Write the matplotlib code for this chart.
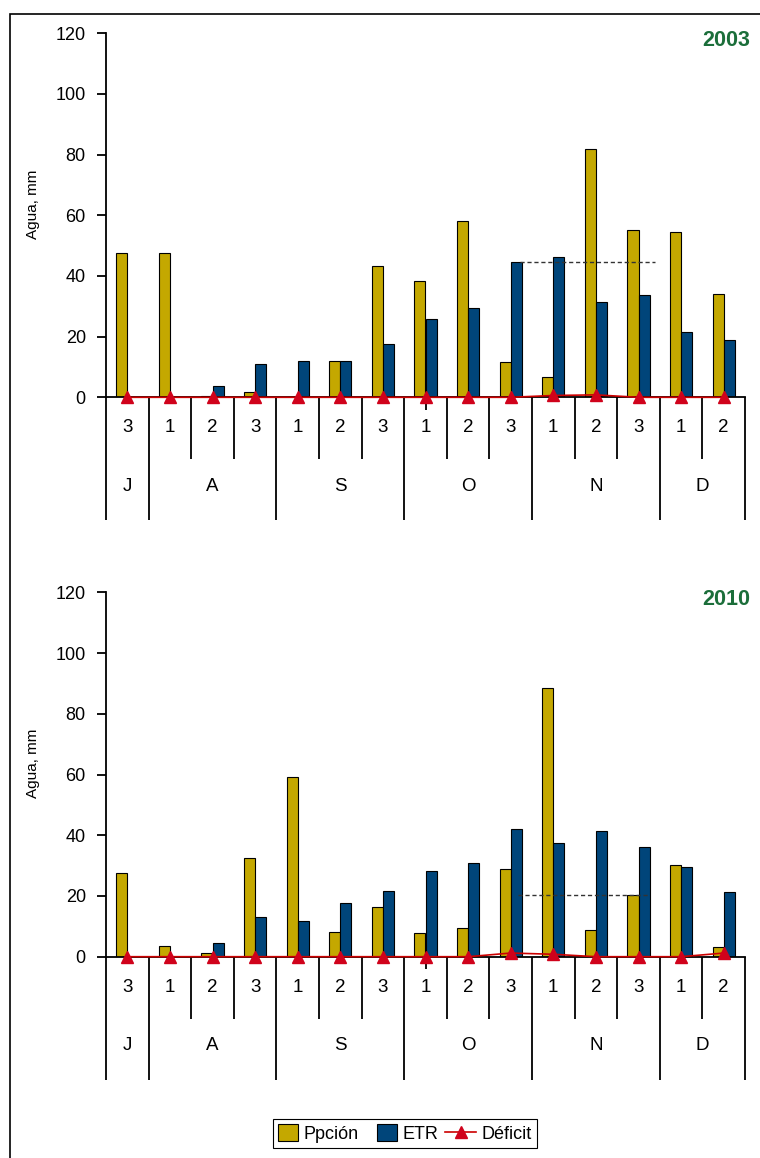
import numpy as np
import matplotlib.pyplot as plt
from matplotlib.legend_handler import HandlerLine2D
from matplotlib.patches import Patch, Rectangle
from matplotlib.lines import Line2D

plt.rcParams['font.family'] = ['Liberation Sans', 'DejaVu Sans']

# decades (J3 .. D2) and months
decadas = ['3', '1', '2', '3', '1', '2', '3', '1', '2', '3', '1', '2', '3', '1', '2']
meses = ['J', 'A', 'S', 'O', 'N', 'D']
meses_n = [1, 3, 3, 3, 3, 2]  # decades per month

# 2003
ppcion_2003 = [47.5, 47.5, 0.5, 1.6, 0.0, 12.1, 43.3, 38.4, 58.1, 11.5, 6.6, 81.8, 55.2, 54.6, 34.2]
etr_2003 = [0.0, 0.0, 3.7, 11.1, 12.1, 12.1, 17.7, 25.8, 29.4, 44.7, 46.2, 31.4, 33.6, 21.4, 19.0]
deficit_2003 = [0, 0, 0, 0, 0, 0, 0, 0, 0, 0, 0.6, 0.8, 0, 0, 0]
umbral_2003 = 44.7
umbral_x_2003 = [9.22, 12.39]

# 2010
ppcion_2010 = [27.5, 3.6, 1.1, 32.4, 59.1, 8.1, 16.3, 7.8, 9.6, 28.8, 88.4, 8.9, 20.3, 30.1, 3.1]
etr_2010 = [0.0, 0.0, 4.4, 13.0, 11.9, 17.7, 21.7, 28.1, 30.9, 42.1, 37.5, 41.3, 36.2, 29.4, 21.2]
deficit_2010 = [0, 0, 0, 0, 0, 0, 0, 0, 0, 1.2, 0.8, 0, 0, 0, 1.2]
umbral_2010 = 20.3
umbral_x_2010 = [9.16, 12.25]

GOLD = '#C4A800'
BLUE = '#00457A'
RED = '#D0021B'


class WideLine(HandlerLine2D):
    # stretch the legend line a bit to the left
    def create_artists(self, legend, orig_handle, xdescent, ydescent, width, height, fontsize, trans):
        extra = 0.6 * fontsize
        return super().create_artists(legend, orig_handle, xdescent + extra, ydescent,
                                      width + extra, height, fontsize, trans)


def dibujar_panel(ax, ppcion, etr, deficit, umbral, umbral_x, anio):
    x = np.arange(len(decadas))
    w = 0.26
    ax.bar(x - w / 2, ppcion, w, color=GOLD, edgecolor='black', linewidth=0.8, zorder=2)
    ax.bar(x + w / 2, etr, w, color=BLUE, edgecolor='black', linewidth=0.8, zorder=2)
    ax.plot(x, deficit, color='#CC0000', lw=1.2, marker='^', ms=9,
            mfc=RED, mec=RED, zorder=5, clip_on=False)
    ax.plot(umbral_x, [umbral, umbral], ls=(0, (3, 2)), color='#333333', lw=1.0, zorder=3)

    ax.set_xlim(-0.5, len(decadas) - 0.5)
    ax.set_ylim(0, 120)
    ax.set_yticks(np.arange(0, 121, 20))
    ax.set_xticks([])
    for s in ['top', 'right']:
        ax.spines[s].set_visible(False)
    for s in ['left', 'bottom']:
        ax.spines[s].set_linewidth(1.3)
    ax.tick_params(axis='y', direction='out', length=6.5, width=1.3, pad=8, labelsize=13)
    ax.set_ylabel('Agua, mm', fontsize=11)
    ax.yaxis.set_label_coords(-0.103, 0.53)

    ax.text(1.008, 0.98, anio, transform=ax.transAxes, ha='right', va='center',
            fontsize=15.5, fontweight='bold', color='#1B6E3A')

    # table of decades / months below the axis
    tr = ax.get_xaxis_transform()
    bordes = np.concatenate([[0], np.cumsum(meses_n)]) - 0.5
    ax.vlines(bordes, -0.338, 0, transform=tr, colors='black', lw=1.3, clip_on=False)
    cortos = [b for b in np.arange(0.5, len(decadas) - 1, 1.0) if b not in bordes]
    ax.vlines(cortos, -0.170, 0, transform=tr, colors='black', lw=1.3, clip_on=False)
    ax.vlines([7], -0.035, 0, transform=tr, colors='black', lw=1.3, clip_on=False)
    for i, d in enumerate(decadas):
        ax.text(i, -0.084, d, transform=tr, ha='center', va='center', fontsize=13.5)
    centros = (bordes[:-1] + bordes[1:]) / 2
    for c, m in zip(centros, meses):
        ax.text(c, -0.244, m, transform=tr, ha='center', va='center', fontsize=13.5)


fig = plt.figure(figsize=(7.6, 11.58), dpi=100)
ax1 = fig.add_axes([106 / 760, 1 - 397.3 / 1158, 639 / 760, 364 / 1158])
ax2 = fig.add_axes([106 / 760, 1 - 956.7 / 1158, 639 / 760, 364.4 / 1158])

dibujar_panel(ax1, ppcion_2003, etr_2003, deficit_2003, umbral_2003, umbral_x_2003, '2003')
dibujar_panel(ax2, ppcion_2010, etr_2010, deficit_2010, umbral_2010, umbral_x_2010, '2010')

# outer frame (only left and top edges fall inside the picture)
fig.add_artist(Rectangle((10 / 760, -0.05), 1.2, 1.05 - 14 / 1158, transform=fig.transFigure,
                         fill=False, edgecolor='black', lw=1.2))

handles = [Patch(facecolor=GOLD, edgecolor='black', lw=0.8),
           Patch(facecolor=BLUE, edgecolor='black', lw=0.8),
           Line2D([], [], color='#CC0000', lw=1.2, marker='^', ms=9, mfc=RED, mec=RED)]
leg = fig.legend(handles, ['Ppción', 'ETR', 'Déficit'], loc='center',
                 bbox_to_anchor=(405 / 760, 1 - 1133.5 / 1158), ncol=3, fontsize=13,
                 frameon=True, fancybox=False, edgecolor='black', framealpha=1,
                 handlelength=1.1, handleheight=1.1, handletextpad=0.3,
                 columnspacing=1.0, borderpad=0.3, handler_map={handles[2]: WideLine()})
leg.get_frame().set_linewidth(0.8)

fig.savefig('out.png', dpi=100)
